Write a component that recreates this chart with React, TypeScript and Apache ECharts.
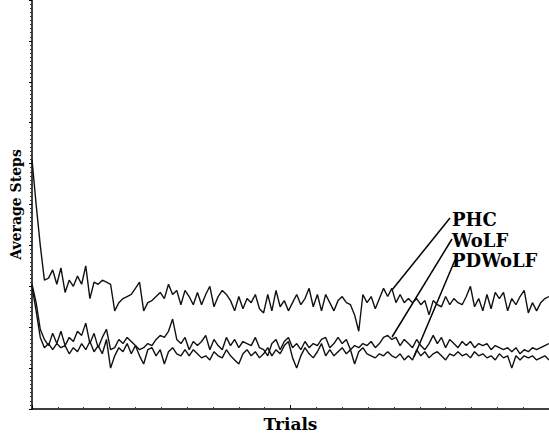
import React, { useEffect, useRef } from "react";
import * as echarts from "echarts";

const STEP = 8; // trials between samples
const X_MAX = 1000;
const Y_MAX = 10;

const PHC = [
  6.1, 5.0, 4.0, 3.15, 3.2, 3.4, 3.05, 3.45, 2.85, 3.15,
  3.0, 3.25, 3.05, 3.5, 2.7, 3.1, 3.05, 3.15, 3.1, 3.05,
  2.4, 2.6, 2.7, 2.75, 2.8, 2.95, 3.1, 2.4, 2.6, 2.65,
  2.75, 2.85, 2.7, 3.05, 2.8, 2.9, 2.55, 2.9, 2.75, 2.55,
  2.85, 2.55, 2.8, 3.0, 2.5, 2.75, 2.9, 2.8, 2.65, 2.4,
  2.75, 2.45, 2.7, 2.6, 2.8, 2.45, 2.35, 2.8, 2.4, 2.9,
  2.5, 2.65, 2.4, 2.6, 2.8, 2.55, 2.7, 2.95, 2.5, 2.8,
  2.4, 2.8, 2.6, 2.4, 2.65, 2.75, 2.6, 2.55, 2.3, 1.9,
  2.8, 2.6, 2.75, 2.45, 2.7, 2.95, 2.75, 2.95, 2.6, 2.8,
  2.6, 2.7, 2.6, 2.7, 2.55, 2.65, 2.3, 2.65, 2.55, 2.5,
  2.75, 2.55, 2.7, 2.6, 2.55, 2.75, 3.0, 2.5, 2.7, 2.4,
  2.8, 2.45, 2.85, 2.7, 2.85, 2.4, 2.7, 2.55, 2.75, 2.9,
  2.35, 2.6, 2.4, 2.6, 2.7, 2.75,
];

const WOLF = [
  3.05, 2.6, 1.95, 1.7, 1.55, 1.85, 1.6, 1.9, 1.55, 1.75,
  1.65, 1.9, 1.8, 2.1, 1.6, 1.85, 1.5, 1.75, 1.95, 1.45,
  1.5, 1.7, 1.6, 1.75, 1.65, 1.55, 1.45, 1.5, 1.6, 1.55,
  1.7, 1.8, 1.75, 1.9, 2.2, 1.7, 1.6, 1.75, 1.45, 1.65,
  1.55, 1.65, 1.8, 1.45, 1.7, 1.55, 1.45, 1.75, 1.55, 1.7,
  1.5, 1.65, 1.6, 1.55, 1.75, 1.5, 1.45, 1.3, 1.6, 1.7,
  1.45, 1.65, 1.75, 1.5, 1.6, 1.45, 1.65, 1.5, 1.6, 1.55,
  1.7, 1.75, 1.5, 1.6, 1.75, 1.6, 1.7, 1.45, 1.55, 1.5,
  1.6, 1.55, 1.65, 1.5, 1.6, 1.75, 1.8, 1.7, 1.75, 1.55,
  1.7, 1.6, 1.5, 1.7, 1.55, 1.45, 1.6, 1.8, 1.6, 1.75,
  1.5, 1.7, 1.6, 1.5, 1.65, 1.55, 1.65, 1.5, 1.6, 1.55,
  1.6, 1.45, 1.55, 1.5, 1.45, 1.5, 1.4, 1.5, 1.35, 1.45,
  1.4, 1.5, 1.45, 1.5, 1.55, 1.6,
];

const PDWOLF = [
  3.0, 2.4, 1.75, 1.5, 1.6, 1.45, 1.6, 1.5, 1.55, 1.35,
  1.5, 1.4, 1.6, 1.45, 1.65, 1.4, 1.55, 1.35, 1.7, 1.0,
  1.3, 1.5, 1.4, 1.6, 1.35, 1.55, 1.3, 1.1, 1.45, 1.5,
  1.3, 1.45, 1.1, 1.4, 1.5, 1.35, 1.3, 1.45, 1.3, 1.45,
  1.35, 1.25, 1.3, 1.2, 1.4, 1.3, 1.25, 1.45, 1.3, 1.2,
  1.1, 1.35, 1.45, 1.3, 1.4, 1.25, 1.35, 1.5, 1.3, 1.45,
  1.35, 1.55, 1.65, 1.25, 1.0, 1.3, 1.5, 1.35, 1.25, 1.4,
  1.6, 1.3, 1.45, 1.3, 1.4, 1.5, 1.35, 1.45, 1.1, 1.4,
  1.5, 1.35, 1.3, 1.25, 1.35, 1.3, 1.4, 1.3, 1.25, 1.35,
  1.2, 1.3, 1.2, 1.45, 1.3, 1.4, 1.25, 1.35, 1.4, 1.3,
  1.2, 1.35, 1.3, 1.4, 1.3, 1.35, 1.25, 1.4, 1.3, 1.35,
  1.25, 1.3, 1.2, 1.35, 1.25, 1.3, 1.0, 1.3, 1.2, 1.3,
  1.25, 1.3, 1.2, 1.25, 1.3, 1.2,
];

const LABELS = ["PHC", "WoLF", "PDWoLF"];

const FONT = "DejaVu Serif";

function pairs(vals: number[]) {
  return vals.map((v, i) => [i * STEP, v]);
}

export default function App() {
  const ref = useRef<HTMLDivElement>(null);
  useEffect(() => {
    if (!ref.current) return;
    const chart = echarts.init(ref.current, null, { renderer: "svg" });
    const lineStyle = { color: "#111", width: 1.4 };
    const mkSeries = (name: string, vals: number[]) => ({
      name,
      type: "line",
      data: pairs(vals),
      showSymbol: false,
      symbol: "none",
      lineStyle,
      clip: true,
      z: 3,
    });
    const labelFont = `bold 18px '${FONT}'`;
    chart.setOption({
      animation: false,
      backgroundColor: "#fff",
      grid: { left: 32, right: 0, top: -3, bottom: 26, containLabel: false },
      xAxis: {
        type: "value",
        min: 0,
        max: X_MAX,
        interval: 500,
        name: "Trials",
        nameLocation: "middle",
        nameGap: 6,
        nameTextStyle: { fontFamily: FONT, fontWeight: "bold", fontSize: 17, color: "#000", verticalAlign: "top" },
        axisLine: { lineStyle: { color: "#000", width: 1.5 } },
        axisTick: { show: true, inside: true, length: 4, lineStyle: { color: "#000" } },
        minorTick: { show: true, splitNumber: 10, length: 2, lineStyle: { color: "#333" } },
        axisLabel: { show: false },
        splitLine: { show: false },
      },
      yAxis: {
        type: "value",
        min: 0,
        max: Y_MAX,
        interval: 1,
        name: "Average Steps",
        nameLocation: "middle",
        nameRotate: 90,
        nameGap: 9,
        nameTextStyle: { fontFamily: FONT, fontWeight: "bold", fontSize: 14, color: "#000" },
        axisLine: { lineStyle: { color: "#000", width: 1.5 } },
        axisTick: { show: true, inside: false, length: 3, lineStyle: { color: "#000" } },
        minorTick: { show: true, splitNumber: 10, length: 2, lineStyle: { color: "#333" } },
        axisLabel: { show: false },
        splitLine: { show: false },
      },
      series: [mkSeries(LABELS[0], PHC), mkSeries(LABELS[1], WOLF), mkSeries(LABELS[2], PDWOLF)],
      graphic: [
        { type: "line", shape: { x1: 450, y1: 218, x2: 392, y2: 290 }, style: { stroke: "#000", lineWidth: 1.5 } },
        { type: "line", shape: { x1: 452, y1: 239, x2: 392, y2: 337 }, style: { stroke: "#000", lineWidth: 1.5 } },
        { type: "line", shape: { x1: 455, y1: 260, x2: 414, y2: 357 }, style: { stroke: "#000", lineWidth: 1.5 } },
        { type: "text", x: 452, y: 219, style: { text: LABELS[0], font: labelFont, fill: "#000", verticalAlign: "middle" } },
        { type: "text", x: 452, y: 240, style: { text: LABELS[1], font: labelFont, fill: "#000", verticalAlign: "middle" } },
        { type: "text", x: 452, y: 260, style: { text: LABELS[2], font: labelFont, fill: "#000", verticalAlign: "middle" } },
      ],
    });
    return () => chart.dispose();
  }, []);
  return (
    <div
      ref={ref}
      style={{ position: "absolute", left: 0, top: 0, width: 549, height: 437, background: "#fff" }}
    />
  );
}
